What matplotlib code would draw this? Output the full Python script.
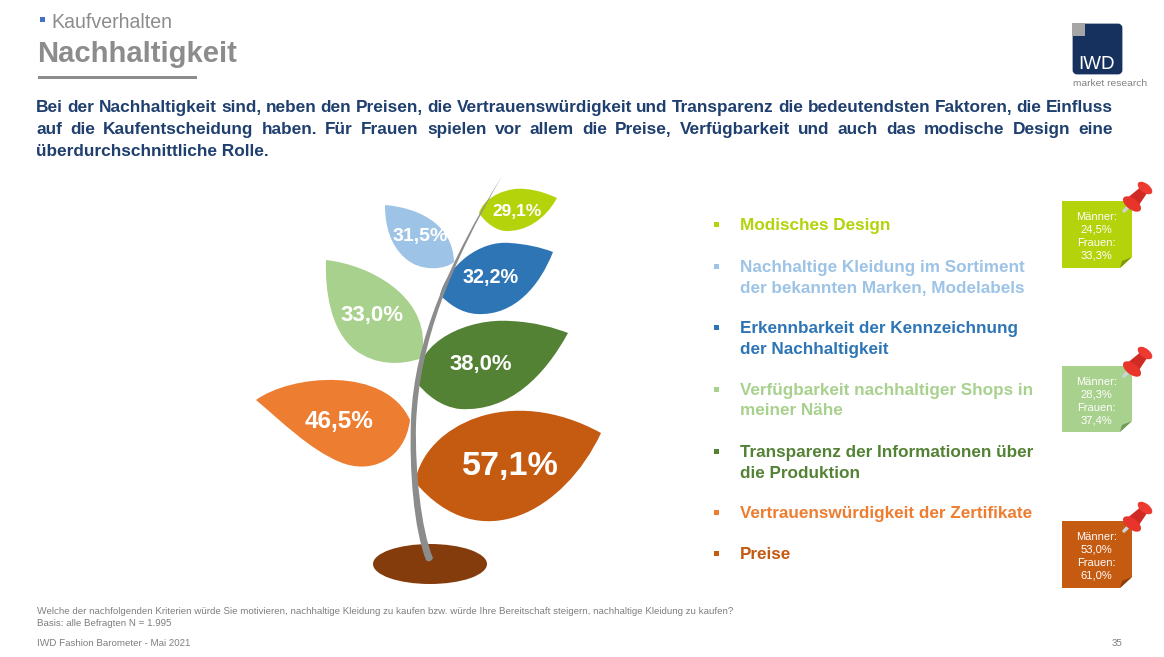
import matplotlib
matplotlib.use('Agg')
import matplotlib.pyplot as plt
from matplotlib.patches import PathPatch, Ellipse, Rectangle, Polygon, FancyBboxPatch
from matplotlib.path import Path

plt.rcParams['font.family'] = ['Liberation Sans', 'DejaVu Sans']
plt.rcParams['text.hinting'] = 'native'

# chart values, top to bottom as in the legend
categories = [
    'Modisches Design',
    'Nachhaltige Kleidung im Sortiment\nder bekannten Marken, Modelabels',
    'Erkennbarkeit der Kennzeichnung\nder Nachhaltigkeit',
    'Verfügbarkeit nachhaltiger Shops in\nmeiner Nähe',
    'Transparenz der Informationen über\ndie Produktion',
    'Vertrauenswürdigkeit der Zertifikate',
    'Preise',
]
totals = ['29,1%', '31,5%', '32,2%', '33,0%', '38,0%', '46,5%', '57,1%']
note_labels = ['Männer:\n24,5%\nFrauen:\n33,3%',
               'Männer:\n28,3%\nFrauen:\n37,4%',
               'Männer:\n53,0%\nFrauen:\n61,0%']
colors = ['#b5d30a', '#9dc3e6', '#2e75b6', '#a9d18e', '#548235', '#ed7d31', '#c55a11']

intro = [
    'Bei der Nachhaltigkeit sind, neben den Preisen, die Vertrauenswürdigkeit und Transparenz die bedeutendsten Faktoren, die Einfluss',
    'auf die Kaufentscheidung haben. Für Frauen spielen vor allem die Preise, Verfügbarkeit und auch das modische Design eine',
    'überdurchschnittliche Rolle.',
]

GREY = '#8c8c8c'
NAVY = '#1f3f6f'
FOOT = '#7f7f7f'

# leaf outlines as cubic segments: start, then (c1, c2, end) ...
leaves = [
    [(479, 213), (485, 195), (510, 187), (525, 189), (538, 190), (548, 194), (557, 198),
     (545, 220), (525, 232), (505, 231), (495, 230), (485, 222), (479, 213)],
    [(385, 205), (420, 208), (453, 225), (454, 262), (445, 270), (420, 272), (405, 258),
     (390, 245), (385, 225), (385, 205)],
    [(440, 295), (448, 265), (480, 240), (510, 243), (525, 244), (540, 247), (553, 252),
     (540, 285), (515, 316), (477, 314), (460, 313), (448, 303), (440, 295)],
    [(326, 260), (370, 265), (425, 295), (423, 345), (423, 352), (423, 355), (422, 358),
     (400, 366), (375, 365), (355, 350), (330, 330), (325, 290), (326, 260)],
    [(417, 383), (415, 340), (470, 318), (510, 321), (535, 322), (555, 328), (568, 333),
     (545, 375), (510, 412), (460, 409), (440, 407), (425, 393), (417, 383)],
    [(256, 400), (290, 375), (385, 365), (410, 420), (405, 460), (370, 475), (340, 462),
     (310, 450), (280, 420), (256, 400)],
    [(415, 482), (425, 425), (510, 383), (601, 433), (565, 510), (480, 560), (415, 482)],
]
label_pos = [(517, 210), (420, 234), (491, 276), (372, 313), (481, 362), (339, 420), (510, 462)]
label_size = [12.5, 14, 14.3, 16, 15.8, 17.6, 24.6]

legend_y = [(224,), (266, 287), (327, 348), (389, 409), (451, 472), (512,), (553,)]
note_tops = [201, 366, 521]
note_bottoms = [268, 432, 588]
note_colors = [colors[0], colors[3], colors[6]]
note_folds = ['#7f9a0a', '#6f9a5a', '#8a3f0c']

fig = plt.figure(figsize=(11.64, 6.57), dpi=100)
ax = fig.add_axes([0, 0, 1, 1])
ax.set_xlim(0, 1164)
ax.set_ylim(657, 0)
ax.axis('off')


def bezier(points, color, z=2):
    codes = [Path.MOVETO] + [Path.CURVE4] * (len(points) - 1)
    ax.add_patch(PathPatch(Path(points, codes), fc=color, ec='none', zorder=z))


def justified(words_line, y, x0, x1, size, color):
    words = words_line.split(' ')
    renderer = fig.canvas.get_renderer()
    widths = []
    for w in words:
        t = ax.text(0, 0, w, fontsize=size, fontweight='bold')
        widths.append(t.get_window_extent(renderer).width)
        t.remove()
    gap = (x1 - x0 - sum(widths)) / (len(words) - 1)
    x = x0
    for w, wd in zip(words, widths):
        ax.text(x, y, w, fontsize=size, fontweight='bold', color=color, va='baseline')
        x += wd + gap


# header
ax.add_patch(Rectangle((40, 17), 5, 5, fc='#4472c4', ec='none'))
ax.text(51.5, 20, 'Kaufverhalten', fontsize=14.1, color=GREY, va='center_baseline')
ax.text(37.5, 51, 'Nachhaltigkeit', fontsize=21.1, fontweight='bold', color=GREY, va='center_baseline')
ax.add_patch(Rectangle((38, 76), 159, 3, fc=GREY, ec='none'))

# logo
ax.add_patch(FancyBboxPatch((1074, 25), 47, 48, boxstyle='round,pad=0,rounding_size=3',
                            fc='#17315f', ec='#17315f', lw=2))
ax.add_patch(Rectangle((1072, 23), 13, 13, fc='#a6a6a6', ec='none', zorder=3))
ax.text(1097, 62, 'IWD', fontsize=13.5, color='white', ha='center', va='center_baseline')
ax.text(1110, 83, 'market research', fontsize=7.4, color='#808080', ha='center', va='center_baseline')

# intro text
justified(intro[0], 112, 36, 1113, 12.45, NAVY)
justified(intro[1], 134, 36, 1113, 12.45, NAVY)
ax.text(36, 156, intro[2], fontsize=12.45, fontweight='bold', color=NAVY, va='baseline')

# plant
ax.add_patch(Ellipse((430, 564), 114, 40, fc='#843c0c', ec='none', zorder=1))
for pts, c in zip(leaves, colors):
    bezier(pts, c)
stem = [(426, 560), (414, 530), (409, 470), (411, 420), (414, 340), (450, 260), (502, 176),
        (452, 263), (419, 340), (416, 425), (415, 470), (421, 530), (433, 558), (431, 562), (428, 562), (426, 560)]
bezier(stem, GREY, z=3)
for val, pos, size in zip(totals, label_pos, label_size):
    ax.text(pos[0], pos[1], val, fontsize=size, fontweight='bold', color='white',
            ha='center', va='center_baseline', zorder=4)

# legend
for cat, ys, c in zip(categories, legend_y, colors):
    ax.add_patch(Rectangle((713.5, ys[0] - 2.5), 5, 5, fc=c, ec='none'))
    for line, y in zip(cat.split('\n'), ys):
        ax.text(740, y, line, fontsize=12.3, fontweight='bold', color=c, va='center_baseline')

# sticky notes with pins
for label, top, bottom, c, fold in zip(note_labels, note_tops, note_bottoms, note_colors, note_folds):
    ax.add_patch(Polygon([(1062, top), (1132, top), (1132, bottom - 11), (1120, bottom), (1062, bottom)],
                         fc=c, ec='none'))
    ax.add_patch(Polygon([(1132, bottom - 11), (1120, bottom), (1122, bottom - 7)], fc=fold, ec='none'))
    for i, line in enumerate(label.split('\n')):
        ax.text(1096.5, top + 15 + i * 13.1, line, fontsize=8, color='white', ha='center', va='center_baseline')
    # pin
    ax.plot([1124, 1131], [top + 10, top + 3], color='#c9d6d6', lw=2.5, solid_capstyle='round', zorder=5)
    ax.add_patch(Polygon([(1126, top - 2), (1137, top + 7), (1148.5, top - 10), (1142, top - 15)],
                         fc='#cf2a23', ec='none', zorder=6))
    ax.add_patch(Ellipse((1132, top + 3), 21, 11, angle=37, fc='#e8352c', ec='none', zorder=7))
    ax.add_patch(Ellipse((1145, top - 13), 17, 9, angle=37, fc='#ee3b32', ec='none', zorder=7))

# footer
ax.text(37, 610, 'Welche der nachfolgenden Kriterien würde Sie motivieren, nachhaltige Kleidung zu kaufen bzw. würde Ihre Bereitschaft steigern, nachhaltige Kleidung zu kaufen?',
        fontsize=7.07, color=FOOT, va='center_baseline')
ax.text(37, 622, 'Basis: alle Befragten N = 1.995', fontsize=7.07, color=FOOT, va='center_baseline')
ax.text(37, 642, 'IWD Fashion Barometer - Mai 2021', fontsize=7.07, color=FOOT, va='center_baseline')
ax.text(1117, 642, '35', fontsize=7.07, color=FOOT, ha='center', va='center_baseline')

plt.savefig('out.png', dpi=100)
